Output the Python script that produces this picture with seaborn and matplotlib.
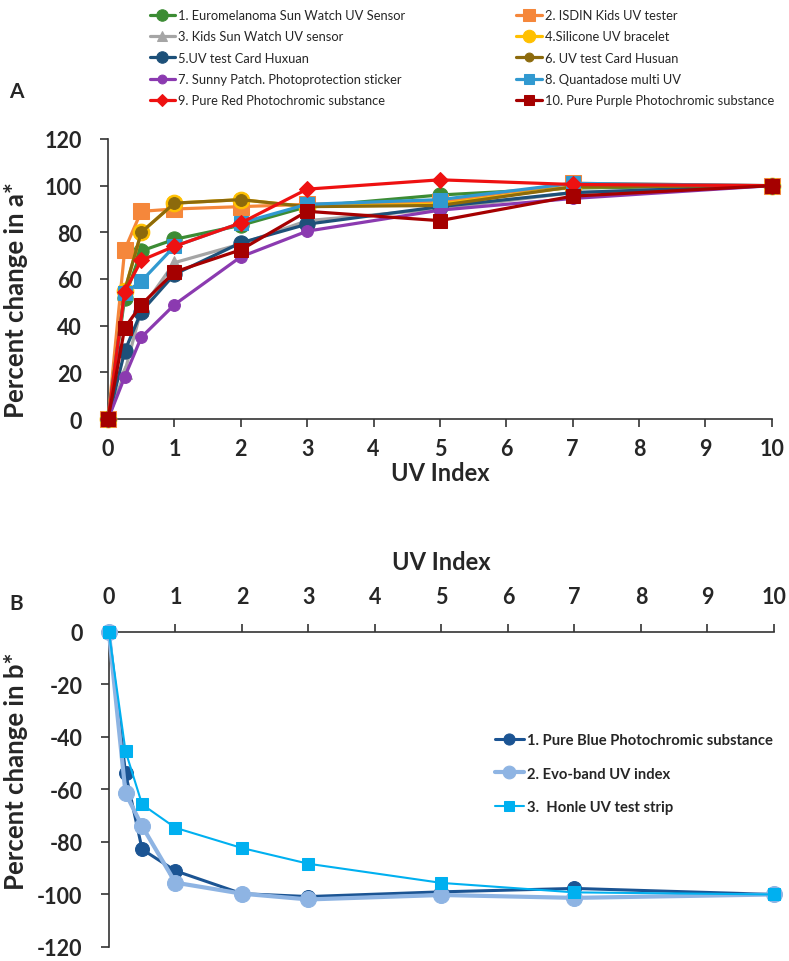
import matplotlib
matplotlib.use("Agg")
import matplotlib.pyplot as plt
import seaborn as sns
import pandas as pd

# UV index steps (shared by both panels)
uv = [0, 0.25, 0.5, 1, 2, 3, 5, 7, 10]

# Panel A - percent change in a*
a_names = ["1. Euromelanoma Sun Watch UV Sensor", "2. ISDIN Kids UV tester",
           "3. Kids Sun Watch UV sensor", "4.Silicone UV bracelet",
           "5.UV test Card Huxuan", "6. UV test Card Husuan",
           "7. Sunny Patch. Photoprotection sticker", "8. Quantadose multi UV",
           "9. Pure Red Photochromic substance", "10. Pure Purple Photochromic substance"]
a_euromelanoma = [0, 52, 72, 77, 83, 91, 96, 99, 100]
a_isdin = [0, 72.5, 89, 90, 91, 92, 93, 101, 100]
a_kids = [0, 20, 47, 67, 75, 85, 90, 97, 100]
a_silicone = [0, 55, 80, 92.5, 94, 91, 92, 99.5, 100]
a_huxuan = [0, 29, 46, 62, 75.5, 83.5, 91, 97, 100]
a_husuan = [0, 55, 80, 92.5, 94, 91, 91.5, 99.5, 100]
a_sunny = [0, 18, 35, 49, 69.5, 80.5, 89.5, 94.5, 100]
a_quantadose = [0, 54, 59, 74, 84, 92, 94, 101, 100]
a_red = [0, 54.5, 68, 74, 84, 98.5, 102.5, 100.5, 100]
a_purple = [0, 39, 49, 63, 72.5, 89, 85, 95.5, 100]
a_values = [a_euromelanoma, a_isdin, a_kids, a_silicone, a_huxuan,
            a_husuan, a_sunny, a_quantadose, a_red, a_purple]

# Panel B - percent change in b*
b_names = ["1. Pure Blue Photochromic substance", "2. Evo-band UV index",
           "3.  Honle UV test strip"]
b_blue = [0, -53.7, -82.8, -91, -99.7, -100.8, -99, -97.7, -100]
b_evo = [0, -61.4, -74, -95.5, -99.7, -101.9, -100.2, -101.3, -100]
b_honle = [0, -45.4, -65.7, -74.6, -82.3, -88.3, -95.6, -99.2, -100]
b_values = [b_blue, b_evo, b_honle]

# styles
a_colors = ["#3c8c34", "#f5873b", "#a5a5a5", "#ffc000", "#1d5079",
            "#8c6a0c", "#8b3ab0", "#3199d0", "#ee1111", "#a50000"]
a_markers = ["o", "s", "^", "o", "o", "o", "o", "s", "D", "s"]
a_msizes = [11, 11, 10, 12, 11, 8.5, 8.5, 10, 8.5, 10.5]
b_colors = ["#1b5493", "#8eb4e3", "#00b0f0"]
b_markers = ["o", "o", "s"]
b_msizes = [10, 11.5, 9]
b_lws = [2.2, 3.0, 1.5]

sns.set_style("ticks")
plt.rcParams["font.family"] = ["Lato", "DejaVu Sans"]
plt.rcParams["axes.unicode_minus"] = False

fig = plt.figure(figsize=(7.89, 9.62), dpi=100)
ax1 = fig.add_axes([0.137, 0.5634, 0.841, 0.2911])
ax2 = fig.add_axes([0.138, 0.0146, 0.843, 0.3274])

df_a = pd.DataFrame({"uv": uv})
for name, vals, c, m, ms in zip(a_names, a_values, a_colors, a_markers, a_msizes):
    df_a[name] = vals
    sns.lineplot(data=df_a, x="uv", y=name, ax=ax1, color=c, marker=m,
                 markersize=ms, markeredgecolor=c, lw=2.3, label=name,
                 clip_on=False, zorder=3)

ax1.set_xlim(0, 10)
ax1.set_ylim(0, 120)
ax1.set_xticks(range(0, 11))
ax1.set_yticks(range(0, 121, 20))
ax1.set_xlabel("UV Index", fontsize=17, fontweight="bold", labelpad=1)
ax1.set_ylabel("Percent change in a*", fontsize=18.5, fontweight="bold")
ax1.yaxis.label.set_va("center")
ax1.yaxis.set_label_coords(-0.139, 0.43)
ax1.tick_params(labelsize=15.5, width=1.2, length=6, color="#333333")
ax1.tick_params(axis="y", pad=13)
ax1.tick_params(axis="x", pad=8)
for lab in ax1.get_xticklabels() + ax1.get_yticklabels():
    lab.set_fontweight("bold")
sns.despine(ax=ax1)
for s in ["left", "bottom"]:
    ax1.spines[s].set_color("#333333")
    ax1.spines[s].set_linewidth(1.2)

h, l = ax1.get_legend_handles_labels()
order = [0, 2, 4, 6, 8, 1, 3, 5, 7, 9]
ax1.legend([h[i] for i in order], [l[i] for i in order], ncol=2,
           loc="upper left", bbox_to_anchor=(0.045, 1.505), frameon=False,
           fontsize=9.3, handlelength=2.0, handletextpad=0.2,
           labelspacing=0.72, columnspacing=8.6, markerscale=0.75)

df_b = pd.DataFrame({"uv": uv})
for name, vals, c, m, ms, lw in zip(b_names, b_values, b_colors, b_markers, b_msizes, b_lws):
    df_b[name] = vals
    sns.lineplot(data=df_b, x="uv", y=name, ax=ax2, color=c, marker=m,
                 markersize=ms, markeredgecolor=c, lw=lw, label=name,
                 clip_on=False, zorder=3)

ax2.set_xlim(0, 10)
ax2.set_ylim(-120, 0)
ax2.set_xticks(range(0, 11))
ax2.set_yticks(range(-120, 1, 20))
ax2.xaxis.tick_top()
ax2.xaxis.set_label_position("top")
ax2.set_xlabel("UV Index", fontsize=17, fontweight="bold", labelpad=12)
ax2.set_ylabel("Percent change in b*", fontsize=18.5, fontweight="bold")
ax2.yaxis.label.set_va("center")
ax2.yaxis.set_label_coords(-0.139, 0.56)
ax2.tick_params(labelsize=15.5, width=1.2, length=6, color="#333333")
ax2.tick_params(axis="y", pad=13)
ax2.tick_params(axis="x", pad=12)
for lab in ax2.get_xticklabels() + ax2.get_yticklabels():
    lab.set_fontweight("bold")
ax2.spines["right"].set_visible(False)
ax2.spines["bottom"].set_visible(False)
for s in ["left", "top"]:
    ax2.spines[s].set_color("#333333")
    ax2.spines[s].set_linewidth(1.2)
ax2.legend(loc="upper left", bbox_to_anchor=(0.56, 0.72), frameon=False,
           prop={"size": 10.6, "weight": "bold"}, handlelength=2.0,
           handletextpad=0.2, labelspacing=1.3, markerscale=0.8)

fig.text(0.012, 0.904, "A", fontsize=15, fontweight="bold", va="center")
fig.text(0.012, 0.372, "B", fontsize=15, fontweight="bold", va="center")

fig.savefig("out.png", dpi=100)
